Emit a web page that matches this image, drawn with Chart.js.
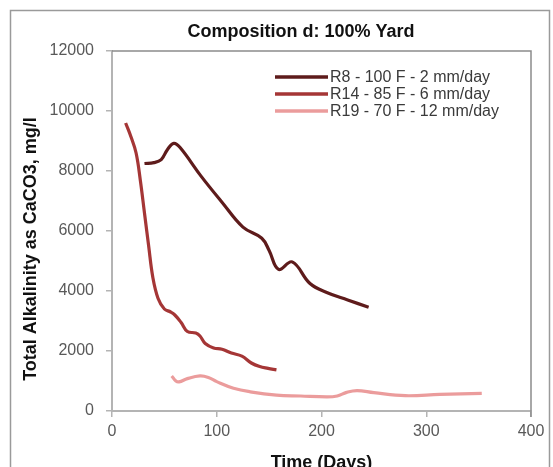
<!DOCTYPE html>
<html><head><meta charset="utf-8">
<script src="https://cdn.jsdelivr.net/npm/chart.js@4.4.0/dist/chart.umd.min.js"></script>
<style>html,body{margin:0;padding:0;background:#fff;}#wrap{width:553px;height:467px;position:relative;overflow:hidden;}</style>
</head><body><div id="wrap"><canvas id="c" width="553" height="467"></canvas></div>
<script>
const chartTitle = 'Composition d: 100% Yard';
const xAxisTitle = 'Time (Days)';
const yAxisTitle = 'Total Alkalinity as CaCO3, mg/l';
const seriesLabels = ['R8 - 100 F - 2 mm/day', 'R14 - 85 F - 6 mm/day', 'R19 - 70 F - 12 mm/day'];
const seriesColors = ['#5e1b1b', '#a53636', '#eb9c9c'];
const xTicks = [0, 100, 200, 300, 400];
const yTicks = [0, 2000, 4000, 6000, 8000, 10000, 12000];

const r8Days   = [31, 40, 47, 53, 59, 65, 85, 105, 125, 143, 150, 159, 172, 189, 205, 225, 245];
const r8Values = [8250, 8280, 8380, 8720, 8920, 8780, 7830, 6960, 6130, 5760, 5350, 4720, 4970, 4250, 3950, 3700, 3460];

const r14Days   = [13, 18, 23, 27, 31, 35, 39, 44, 50, 56, 60, 66, 72, 80, 84, 89, 97, 105, 114, 124, 133, 141, 149, 157];
const r14Values = [9600, 9150, 8600, 7700, 6600, 5500, 4450, 3750, 3400, 3300, 3200, 2950, 2650, 2600, 2500, 2250, 2100, 2060, 1930, 1830, 1600, 1480, 1420, 1370];

const r19Days   = [57, 61, 64, 72, 84, 92, 100, 116, 132, 157, 180, 205, 215, 224, 234, 250, 280, 313, 353];
const r19Values = [1170, 1000, 970, 1080, 1170, 1120, 980, 760, 640, 530, 500, 470, 500, 620, 680, 610, 510, 555, 590];

const pts = (xs, ys) => xs.map((x, i) => ({x: x, y: ys[i]}));
const FONT = '"Liberation Sans", Arial, sans-serif';

const decor = {
  id: 'decor',
  beforeDraw(chart) {
    const ctx = chart.ctx;
    ctx.save();
    ctx.fillStyle = '#fff';
    ctx.fillRect(0, 0, chart.width, chart.height);
    ctx.strokeStyle = '#9a9a9a';
    ctx.lineWidth = 1.5;
    ctx.strokeRect(10.5, 10.5, 539, 480);
    ctx.restore();
  },
  afterDraw(chart) {
    const ctx = chart.ctx;
    const a = chart.chartArea;
    ctx.save();
    ctx.strokeStyle = '#8c8c8c';
    ctx.lineWidth = 1.5;
    ctx.beginPath();
    ctx.moveTo(a.left, a.top);
    ctx.lineTo(a.right, a.top);
    ctx.lineTo(a.right, a.bottom + 6);
    ctx.stroke();
    ctx.fillStyle = '#111';
    ctx.font = 'bold 18px ' + FONT;
    ctx.textAlign = 'center';
    ctx.textBaseline = 'alphabetic';
    ctx.fillText(chartTitle, 301, 37);
    ctx.fillText(xAxisTitle, (a.left + a.right) / 2, 468);
    ctx.save();
    ctx.translate(31, 249);
    ctx.rotate(-Math.PI / 2);
    ctx.textBaseline = 'middle';
    ctx.fillText(yAxisTitle, 0, 0);
    ctx.restore();
    ctx.font = '16px ' + FONT;
    ctx.textAlign = 'left';
    ctx.textBaseline = 'middle';
    const ys = [77, 94, 111];
    chart.data.datasets.forEach((ds, i) => {
      ctx.strokeStyle = ds.borderColor;
      ctx.lineWidth = 3.5;
      ctx.beginPath();
      ctx.moveTo(275, ys[i]);
      ctx.lineTo(328, ys[i]);
      ctx.stroke();
      ctx.fillStyle = '#3a3a3a';
      ctx.fillText(ds.label, 330, ys[i] + 1);
    });
    ctx.restore();
  }
};

new Chart(document.getElementById('c'), {
  type: 'line',
  data: {
    datasets: [
      {label: seriesLabels[0], data: pts(r8Days, r8Values), borderColor: seriesColors[0]},
      {label: seriesLabels[1], data: pts(r14Days, r14Values), borderColor: seriesColors[1]},
      {label: seriesLabels[2], data: pts(r19Days, r19Values), borderColor: seriesColors[2]}
    ]
  },
  options: {
    responsive: false,
    animation: false,
    events: [],
    layout: {padding: {left: 0, top: 51, right: 22, bottom: 0}},
    elements: {
      point: {radius: 0},
      line: {borderWidth: 3.2, tension: 0.4, fill: false, capBezierPoints: true}
    },
    plugins: {legend: {display: false}, title: {display: false}, tooltip: {enabled: false}},
    scales: {
      x: {
        type: 'linear',
        min: xTicks[0], max: xTicks[xTicks.length - 1],
        afterBuildTicks: s => { s.ticks = xTicks.map(v => ({value: v})); },
        afterFit: s => { s.height = 56; },
        grid: {display: true, drawOnChartArea: false, drawTicks: true, tickLength: 6, color: '#b4b4b4', lineWidth: 1.5},
        border: {display: true, color: '#b4b4b4', width: 2},
        ticks: {color: '#595959', font: {family: FONT, size: 16}, padding: 5, maxRotation: 0, callback: v => String(v)}
      },
      y: {
        type: 'linear',
        min: yTicks[0], max: yTicks[yTicks.length - 1],
        afterBuildTicks: s => { s.ticks = yTicks.map(v => ({value: v})); },
        afterFit: s => { s.width = 112; },
        grid: {display: true, drawOnChartArea: false, drawTicks: true, tickLength: 6, color: '#b4b4b4', lineWidth: 1.5},
        border: {display: true, color: '#b4b4b4', width: 2},
        ticks: {color: '#595959', font: {family: FONT, size: 16}, padding: 12, callback: v => String(v)}
      }
    }
  },
  plugins: [decor]
});
</script>
</body></html>
